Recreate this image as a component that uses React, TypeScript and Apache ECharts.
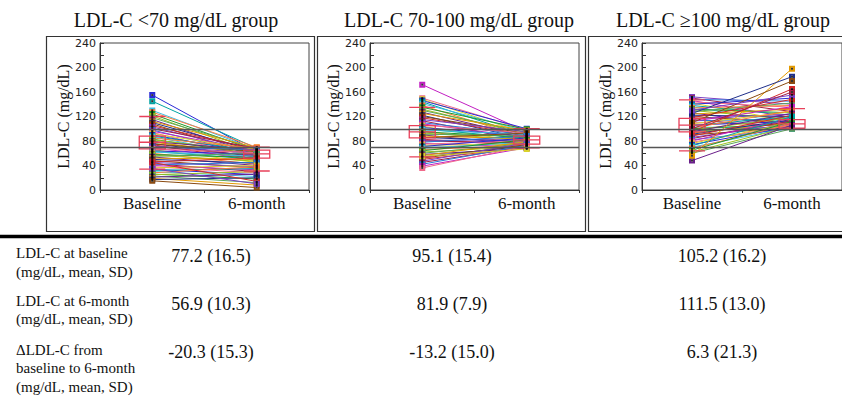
import React, { useEffect, useRef } from "react";
import * as echarts from "echarts";

const CATS = ["Baseline", "6-month"];
const TITLES = ["LDL-C <70 mg/dL group", "LDL-C 70-100 mg/dL group", "LDL-C \u2265100 mg/dL group"];
const Y_NAME = "LDL-C (mg/dL)";

// group 1: <70
const G1_BASE = [155, 145, 130, 127, 124, 121, 118, 115, 112, 110, 108, 105, 103, 100, 98, 96, 94, 92, 90, 88, 87, 85, 83, 82, 80, 79, 78, 76, 75, 74, 72, 71, 70, 68, 67, 66, 64, 63, 62, 60, 58, 57, 55, 54, 52, 50, 48, 46, 45, 43, 41, 40, 38, 36, 34, 32, 30, 28, 26, 25, 23, 21, 19, 17, 15, 45, 35];
const G1_SIX = [62, 68, 66, 70, 64, 60, 67, 58, 69, 63, 55, 66, 61, 68, 57, 64, 52, 66, 60, 63, 55, 68, 58, 62, 50, 65, 59, 54, 63, 48, 60, 56, 66, 52, 61, 45, 58, 50, 55, 42, 53, 47, 60, 40, 50, 44, 36, 52, 38, 30, 45, 33, 28, 40, 25, 35, 22, 38, 18, 30, 12, 26, 8, 20, 4, 14, 10];
// group 2: 70-100
const G2_BASE = [172, 150, 148, 146, 144, 141, 138, 135, 132, 130, 127, 125, 122, 120, 118, 115, 113, 110, 108, 106, 104, 102, 100, 98, 96, 95, 93, 91, 90, 88, 86, 85, 83, 81, 80, 78, 76, 75, 73, 71, 70, 68, 66, 64, 62, 60, 58, 56, 54, 52, 50, 47, 45, 42, 39, 36, 55];
const G2_SIX = [95, 98, 92, 100, 88, 96, 85, 99, 91, 94, 87, 97, 83, 92, 89, 95, 80, 90, 86, 93, 78, 88, 84, 91, 76, 86, 82, 89, 74, 84, 79, 93, 72, 82, 77, 88, 70, 80, 75, 85, 69, 78, 73, 82, 71, 76, 68, 79, 72, 74, 70, 77, 71, 73, 69, 72, 67];
// group 3: >=100
const G3_BASE = [152, 150, 148, 146, 144, 142, 140, 138, 136, 134, 132, 130, 128, 126, 124, 122, 120, 118, 116, 115, 113, 112, 110, 108, 106, 105, 103, 101, 100, 98, 96, 95, 93, 91, 90, 88, 86, 84, 82, 80, 78, 76, 74, 72, 70, 68, 65, 62, 60, 48, 56, 125, 110, 95, 130, 100];
const G3_SIX = [140, 128, 145, 118, 135, 112, 150, 122, 108, 138, 126, 115, 142, 104, 132, 120, 110, 148, 124, 102, 116, 136, 106, 128, 112, 120, 100, 130, 108, 118, 104, 125, 110, 115, 102, 122, 108, 113, 100, 118, 106, 110, 104, 120, 102, 108, 112, 104, 100, 106, 198, 185, 178, 165, 155, 160];

// box stats: [low whisker, Q1, median, Q3, high whisker] for Baseline, 6-month
const G1_BOX = [[34, 67, 78, 88, 120], [31, 52, 59, 65, 70]];
const G2_BOX = [[54, 85, 95, 105, 135], [69, 75, 82, 88, 100]];
const G3_BOX = [[64, 95, 106, 117, 147], [100, 101, 108, 115, 133]];
const REF_LINES = [70, 100];

const ROW_LABELS = [
  ["LDL-C at baseline", "(mg/dL, mean, SD)"],
  ["LDL-C at 6-month", "(mg/dL, mean, SD)"],
  ["\u0394LDL-C from", "baseline to 6-month", "(mg/dL, mean, SD)"],
];
const ROW_VALUES = [
  ["77.2 (16.5)", "95.1 (15.4)", "105.2 (16.2)"],
  ["56.9 (10.3)", "81.9 (7.9)", "111.5 (13.0)"],
  ["-20.3 (15.3)", "-13.2 (15.0)", "6.3 (21.3)"],
];

const PALETTE = ["#2a2ad6", "#d42a2a", "#1f9a2a", "#c21fc2", "#e39a00", "#00a3a3", "#7a3fc4", "#9cc21f", "#f06a8a", "#1f2f8a", "#3fbfe3", "#a01f45", "#5aa65a", "#d9d22a", "#8a4a10", "#ff7a3a", "#2a7ad6", "#6a1f8a"];

const SERIF = "Liberation Serif";
const SANS = "DejaVu Sans";

const GRID_LEFTS = [100, 370, 642];
const FRAMES = [[46.5, 268], [317.5, 268], [588.5, 300]];
const TITLE_X = [176, 459, 723];
const COL_X = [211, 452, 722];

function panelSeries(i: number, base: number[], six: number[], box: number[][]) {
  const s: any[] = [];
  base.forEach((b, k) => {
    const c = PALETTE[(k * 5 + i * 3) % PALETTE.length];
    s.push({
      type: "line",
      xAxisIndex: i,
      yAxisIndex: i,
      data: [b, six[k]],
      symbol: "emptyRect",
      symbolSize: 4,
      silent: true,
      lineStyle: { width: 1, color: c },
      itemStyle: { color: c, borderWidth: 1 },
      z: 2,
    });
  });
  s.push({
    type: "boxplot",
    xAxisIndex: i,
    yAxisIndex: i,
    data: box,
    boxWidth: [26, 26],
    silent: true,
    itemStyle: { color: "rgba(0,0,0,0)", borderColor: "#e8405a", borderWidth: 1.3 },
    z: 3,
    markLine: {
      silent: true,
      symbol: "none",
      label: { show: false },
      lineStyle: { color: "#555", width: 1.3, type: "solid" },
      data: REF_LINES.map((v) => ({ yAxis: v })),
    },
  });
  s.push({
    type: "scatter",
    xAxisIndex: i,
    yAxisIndex: i,
    data: base.map((v) => [0, v]).concat(six.map((v) => [1, v])),
    symbol: "rect",
    symbolSize: 2,
    silent: true,
    itemStyle: { color: "#000" },
    z: 4,
  });
  return s;
}

function textEl(text: string, x: number, y: number, size: number, align: string) {
  return {
    type: "text",
    x,
    y,
    silent: true,
    style: {
      text,
      fill: "#111",
      fontFamily: SERIF,
      fontSize: size,
      align,
      verticalAlign: "middle",
      textAlign: align,
      textVerticalAlign: "middle",
    },
  };
}

export default function App() {
  const ref = useRef<HTMLDivElement>(null);
  useEffect(() => {
    if (!ref.current) return;
    const chart = echarts.init(ref.current, null, { renderer: "svg" });
    const groups = [
      [G1_BASE, G1_SIX, G1_BOX],
      [G2_BASE, G2_SIX, G2_BOX],
      [G3_BASE, G3_SIX, G3_BOX],
    ] as any[];

    const graphic: any[] = [];
    FRAMES.forEach(([x, w]) => {
      graphic.push({
        type: "rect",
        silent: true,
        shape: { x, y: 36.5, width: w, height: 195 },
        style: { fill: "none", stroke: "#333", lineWidth: 1.2 },
      });
    });
    graphic.push({
      type: "line",
      silent: true,
      shape: { x1: 0, y1: 236.5, x2: 842, y2: 236.5 },
      style: { stroke: "#000", lineWidth: 3.5 },
    });
    TITLES.forEach((t, i) => graphic.push(textEl(t, TITLE_X[i], 20, 20, "center")));
    const labelYs = [[253, 272], [301, 319], [350, 368, 387]];
    const valueYs = [256, 304, 352];
    ROW_LABELS.forEach((lines, r) => {
      lines.forEach((ln, j) => graphic.push(textEl(ln, 16, labelYs[r][j], 15, "left")));
      ROW_VALUES[r].forEach((v, c) => graphic.push(textEl(v, COL_X[c], valueYs[r], 18, "center")));
    });

    const option: any = {
      animation: false,
      backgroundColor: "#fff",
      grid: GRID_LEFTS.map((l) => ({
        left: l,
        top: 43,
        width: 209,
        height: 147,
        show: true,
        borderColor: "#444",
        borderWidth: 1,
        backgroundColor: "rgba(0,0,0,0)",
      })),
      xAxis: GRID_LEFTS.map((_, i) => ({
        type: "category",
        gridIndex: i,
        data: CATS,
        boundaryGap: true,
        axisLine: { lineStyle: { color: "#333", width: 1 } },
        axisTick: { show: true, length: 3, lineStyle: { color: "#333" } },
        axisLabel: { fontFamily: SERIF, fontSize: 17, color: "#111", margin: 5 },
      })),
      yAxis: GRID_LEFTS.map((_, i) => ({
        type: "value",
        gridIndex: i,
        min: 0,
        max: 240,
        interval: 40,
        name: Y_NAME,
        nameLocation: "middle",
        nameGap: 28,
        nameTextStyle: { fontFamily: SERIF, fontSize: 16, color: "#111" },
        axisLine: { show: true, lineStyle: { color: "#333", width: 1 } },
        axisTick: { show: true, inside: true, length: 4, lineStyle: { color: "#333" } },
        minorTick: { show: true, splitNumber: 2, length: 4, lineStyle: { color: "#333" } },
        splitLine: { show: false },
        axisLabel: { fontFamily: SANS, fontSize: 11, color: "#222", margin: 4 },
      })),
      series: groups.flatMap((g, i) => panelSeries(i, g[0], g[1], g[2])),
      graphic,
    };
    chart.setOption(option);
    return () => chart.dispose();
  }, []);
  return (
    <div
      ref={ref}
      style={{ position: "absolute", left: 0, top: 0, width: 842, height: 397, overflow: "hidden" }}
    />
  );
}
